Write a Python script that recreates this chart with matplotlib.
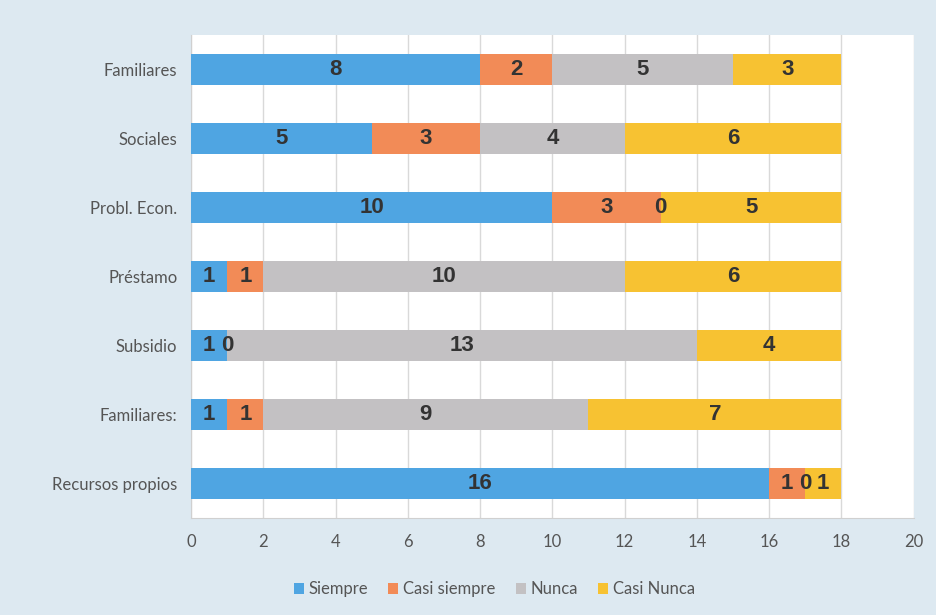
import matplotlib.pyplot as plt
import numpy as np

categorias = ['Familiares', 'Sociales', 'Probl. Econ.', 'Préstamo',
              'Subsidio', 'Familiares:', 'Recursos propios']
siempre = [8, 5, 10, 1, 1, 1, 16]
casi_siempre = [2, 3, 3, 1, 0, 1, 1]
nunca = [5, 4, 0, 10, 13, 9, 0]
casi_nunca = [3, 6, 5, 6, 4, 7, 1]

series = [('Siempre', siempre, '#4fa5e2'),
          ('Casi siempre', casi_siempre, '#f28b57'),
          ('Nunca', nunca, '#c3c1c3'),
          ('Casi Nunca', casi_nunca, '#f7c232')]

plt.rcParams['font.family'] = ['Lato', 'DejaVu Sans']

fig = plt.figure(figsize=(9.37, 6.15), dpi=100)
fig.patch.set_facecolor('#dde9f1')
ax = fig.add_axes([0.204, 0.158, 0.771, 0.785])
ax.set_facecolor('white')

y = np.arange(len(categorias))
left = np.zeros(len(categorias))
for nombre, valores, color in series:
    bars = ax.barh(y, valores, left=left, height=0.44, color=color,
                   label=nombre, zorder=3)
    textos = ax.bar_label(bars, labels=[str(v) for v in valores],
                          label_type='center', fontsize=16,
                          fontweight='bold', color='#333333',
                          family='Liberation Sans')
    for t in textos:
        t.set_zorder(10)
    left += np.array(valores)

ax.set_yticks(y)
ax.set_yticklabels(categorias)
ax.set_ylim(len(categorias) - 0.5, -0.5)
ax.set_xlim(0, 20)
ax.set_xticks(range(0, 21, 2))
ax.grid(axis='x', color='#d9d9d9', linewidth=1, zorder=0)
ax.tick_params(axis='both', labelsize=12, colors='#555555', length=0, pad=10)
ax.tick_params(axis='x', pad=12)
for s in ['top', 'right']:
    ax.spines[s].set_visible(False)
ax.spines['left'].set_color('#d0d0d0')
ax.spines['bottom'].set_color('#d0d0d0')

ax.legend(loc='upper center', bbox_to_anchor=(0.42, -0.1), ncol=4,
          frameon=False, fontsize=12, handlelength=0.6, handleheight=0.6,
          handletextpad=0.3, columnspacing=1.2, labelcolor='#555555')

plt.savefig('out.png', dpi=100, facecolor=fig.get_facecolor())
